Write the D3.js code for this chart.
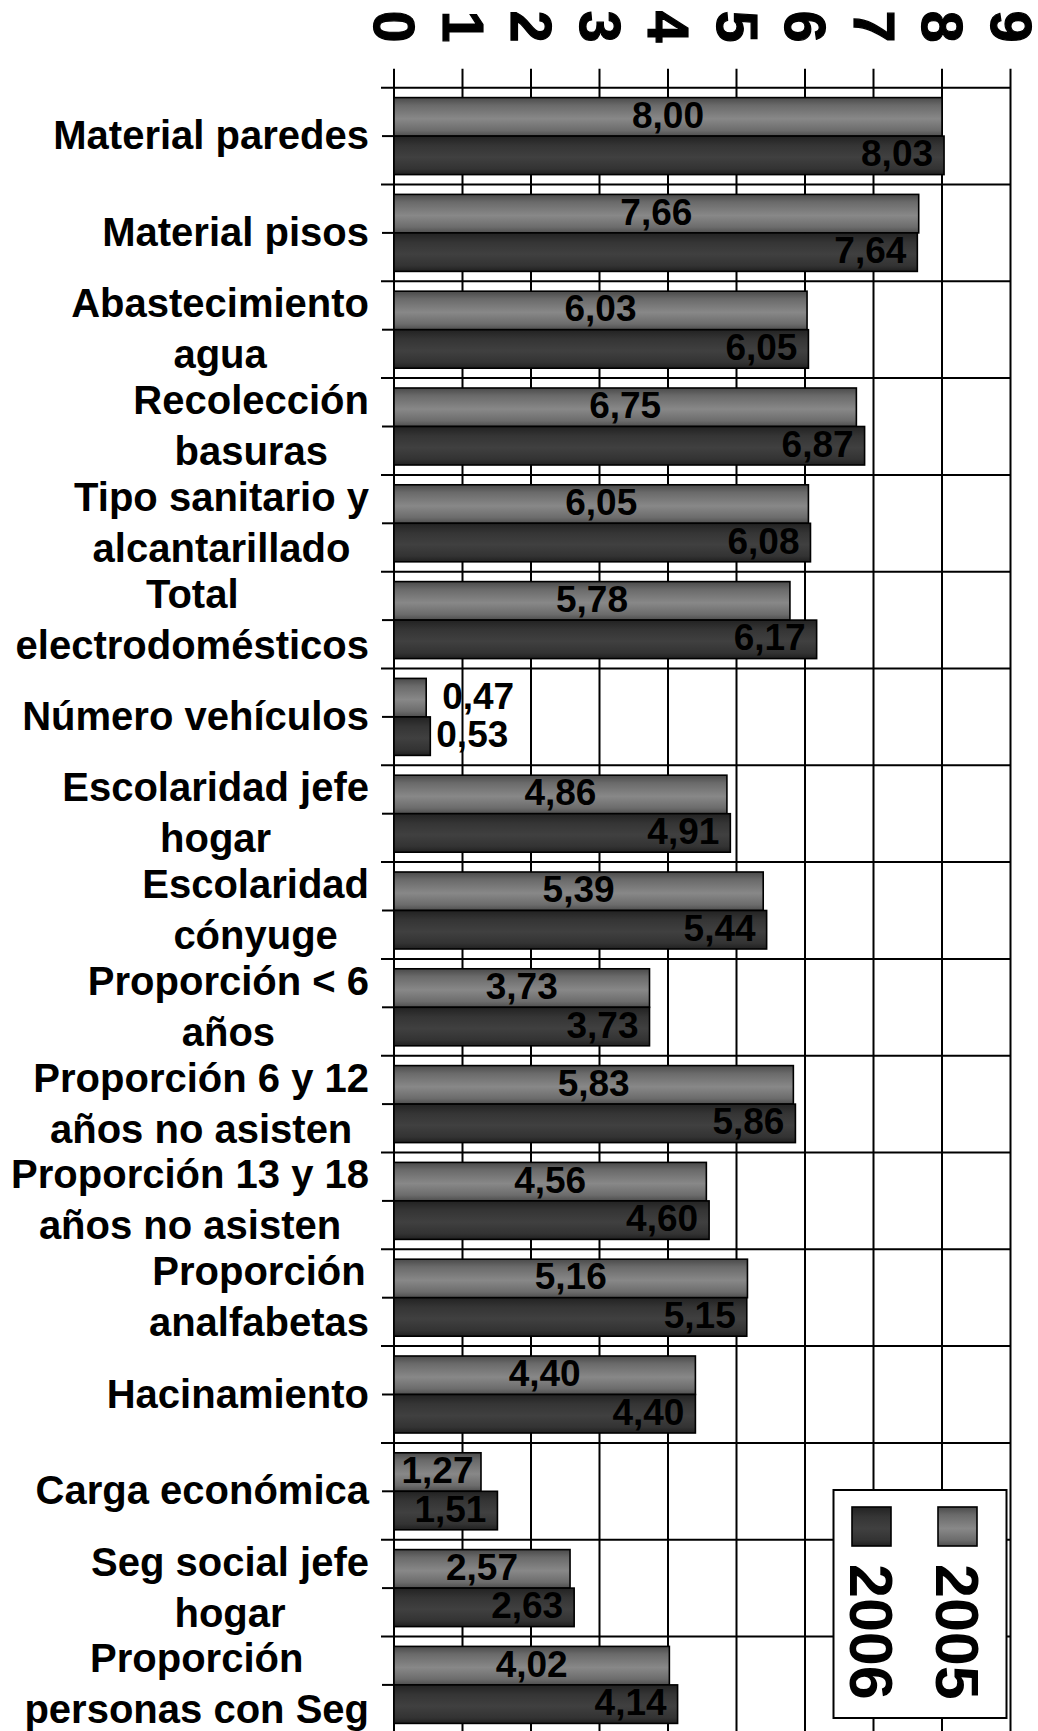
<!DOCTYPE html>
<html>
<head>
<meta charset="utf-8">
<script src="https://cdn.jsdelivr.net/npm/d3@7"></script>
<style>
  body { margin: 0; background: #fff; }
  svg text { font-family: "Liberation Sans", Arial, sans-serif; font-weight: bold; fill: #000; }
</style>
</head>
<body>
<svg id="chart"></svg>
<script>
// data
const categories = [
  "Material paredes", "Material pisos", "Abastecimiento agua", "Recolección basuras",
  "Tipo sanitario y alcantarillado", "Total electrodomésticos", "Número vehículos",
  "Escolaridad jefe hogar", "Escolaridad cónyuge", "Proporción < 6 años",
  "Proporción 6 y 12 años no asisten", "Proporción 13 y 18 años no asisten",
  "Proporción analfabetas", "Hacinamiento", "Carga económica",
  "Seg social jefe hogar", "Proporción personas con Seg"
];
// how each category label wraps
const labelLines = [
  ["Material paredes"], ["Material pisos"], ["Abastecimiento", "agua"], ["Recolección", "basuras"],
  ["Tipo sanitario y", "alcantarillado"], ["Total", "electrodomésticos"], ["Número vehículos"],
  ["Escolaridad jefe", "hogar"], ["Escolaridad", "cónyuge"], ["Proporción < 6", "años"],
  ["Proporción 6 y 12", "años no asisten"], ["Proporción 13 y 18", "años no asisten"],
  ["Proporción", "analfabetas"], ["Hacinamiento"], ["Carga económica"],
  ["Seg social jefe", "hogar"], ["Proporción", "personas con Seg"]
];
const series = ["2005", "2006"];
const values2005 = [8.00, 7.66, 6.03, 6.75, 6.05, 5.78, 0.47, 4.86, 5.39, 3.73, 5.83, 4.56, 5.16, 4.40, 1.27, 2.57, 4.02];
const values2006 = [8.03, 7.64, 6.05, 6.87, 6.08, 6.17, 0.53, 4.91, 5.44, 3.73, 5.86, 4.60, 5.15, 4.40, 1.51, 2.63, 4.14];
const xTicks = [0, 1, 2, 3, 4, 5, 6, 7, 8, 9];

const width = 1038, height = 1731;
const svg = d3.select("#chart").attr("width", width).attr("height", height);

const plot = { left: 394, right: 1010.5, top: 87.7, band: 96.8 };

const x = d3.scaleLinear().domain([0, 9]).range([plot.left, plot.right]);
const y = d3.scaleBand()
  .domain(categories)
  .range([plot.top, plot.top + categories.length * plot.band]);
const ySub = d3.scaleBand().domain(series).range([0, y.bandwidth()])
  .paddingInner(0).paddingOuter(0.257);

const locale = d3.formatLocale({ decimal: ",", thousands: ".", grouping: [3], currency: ["", ""] });
const fmt = locale.format(".2f");

// gradients for the bars
const defs = svg.append("defs");
function grad(id, stops) {
  const g = defs.append("linearGradient").attr("id", id)
    .attr("x1", 0).attr("y1", 0).attr("x2", 0).attr("y2", 1);
  stops.forEach(s => g.append("stop").attr("offset", s[0]).attr("stop-color", s[1]));
}
grad("g2005", [[0, "#4a4a4a"], [0.2, "#6a6a6a"], [0.55, "#888888"], [0.85, "#6c6c6c"], [1, "#4e4e4e"]]);
grad("g2006", [[0, "#222222"], [0.25, "#353535"], [0.55, "#404040"], [0.85, "#333333"], [1, "#202020"]]);
const fills = { "2005": "url(#g2005)", "2006": "url(#g2006)" };

// gridlines
const bottom = height + 5;
svg.append("g").selectAll("line")
  .data(xTicks)
  .join("line")
    .attr("x1", d => x(d)).attr("x2", d => x(d))
    .attr("y1", plot.top - 19).attr("y2", bottom)
    .attr("stroke", "#000").attr("stroke-width", 2);

const boundaries = d3.range(categories.length + 1).map(i => plot.top + i * y.step());
svg.append("g").selectAll("line")
  .data(boundaries)
  .join("line")
    .attr("x1", plot.left - 13).attr("x2", plot.right)
    .attr("y1", d => d).attr("y2", d => d)
    .attr("stroke", "#000").attr("stroke-width", 2);

// left ticks at band middles
svg.append("g").selectAll("line")
  .data(categories)
  .join("line")
    .attr("x1", plot.left - 12).attr("x2", plot.left)
    .attr("y1", d => y(d) + y.bandwidth() / 2).attr("y2", d => y(d) + y.bandwidth() / 2)
    .attr("stroke", "#000").attr("stroke-width", 2);

// top axis labels (rotated)
const xAxis = d3.axisTop(x).tickValues(xTicks).tickSize(0).tickFormat(d3.format("d"));
const ax = svg.append("g").attr("transform", `translate(0, ${plot.top})`).call(xAxis);
ax.select(".domain").remove();
ax.selectAll("text")
  .attr("font-size", 57)
  .attr("stroke", "#000").attr("stroke-width", 1.2)
  .attr("x", 0).attr("y", 0).attr("dy", null)
  .attr("text-anchor", "middle")
  .attr("transform", `translate(-20.5, ${26.5 - plot.top}) rotate(90)`);

// bars
const rows = categories.map((c, i) => ({ cat: c, vals: [
  { key: "2005", cat: c, v: values2005[i] },
  { key: "2006", cat: c, v: values2006[i] }
] }));

const groups = svg.append("g").selectAll("g")
  .data(rows)
  .join("g")
    .attr("transform", d => `translate(0, ${y(d.cat)})`);

groups.selectAll("rect")
  .data(d => d.vals)
  .join("rect")
    .attr("x", x(0))
    .attr("y", d => ySub(d.key))
    .attr("width", d => x(d.v) - x(0))
    .attr("height", ySub.bandwidth())
    .attr("fill", d => fills[d.key])
    .attr("stroke", "#000")
    .attr("stroke-width", 1.6);

// value labels
const labels = groups.selectAll("text.val")
  .data(d => d.vals)
  .join("text")
    .attr("class", "val")
    .attr("font-size", 37)
    .attr("fill", "#111")
    .attr("y", d => ySub(d.key) + ySub.bandwidth() / 2 + 11)
    .text(d => fmt(d.v));

labels.each(function(d) {
  const t = d3.select(this);
  const w = this.getComputedTextLength();
  const barW = x(d.v) - x(0);
  if (w + 8 > barW) {
    t.attr("text-anchor", "start").attr("x", x(d.v) + (d.key === "2005" ? 16 : 6));
  } else if (d.key === "2005" || w + 30 > barW) {
    t.attr("text-anchor", "middle").attr("x", (x(0) + x(d.v)) / 2);
  } else {
    t.attr("text-anchor", "end").attr("x", x(d.v) - 11);
  }
});

// category labels, lines centred on each other, block right-aligned
const labelRight = 369;
const lineH = 51;
const catLabels = svg.append("g").selectAll("text")
  .data(categories)
  .join("text")
    .attr("font-size", 40);

catLabels.each(function(d, i) {
  const t = d3.select(this);
  const lines = labelLines[i];
  const mid = y(d) + y.bandwidth() / 2;
  const spans = lines.map((ln, j) => t.append("tspan")
    .attr("y", mid + 13 + (j - (lines.length - 1) / 2) * lineH)
    .text(ln));
  const maxW = d3.max(spans, s => s.node().getComputedTextLength());
  spans.forEach(s => s.attr("x", labelRight - maxW / 2).attr("text-anchor", "middle"));
});

// legend
const legend = svg.append("g");
legend.append("rect")
  .attr("x", 833.5).attr("y", 1490)
  .attr("width", 173).attr("height", 228)
  .attr("fill", "#fff").attr("stroke", "#000").attr("stroke-width", 2);

const legendItems = [
  { key: "2006", x: 852 },
  { key: "2005", x: 938 }
];
legend.selectAll("rect.sw")
  .data(legendItems)
  .join("rect")
    .attr("class", "sw")
    .attr("x", d => d.x).attr("y", 1507)
    .attr("width", 39).attr("height", 39)
    .attr("fill", d => fills[d.key])
    .attr("stroke", "#000").attr("stroke-width", 1.6);

legend.selectAll("text")
  .data(legendItems)
  .join("text")
    .attr("font-size", 61)
    .attr("transform", d => `translate(${d.x - 2}, 1564) rotate(90)`)
    .text(d => d.key);
</script>
</body>
</html>
